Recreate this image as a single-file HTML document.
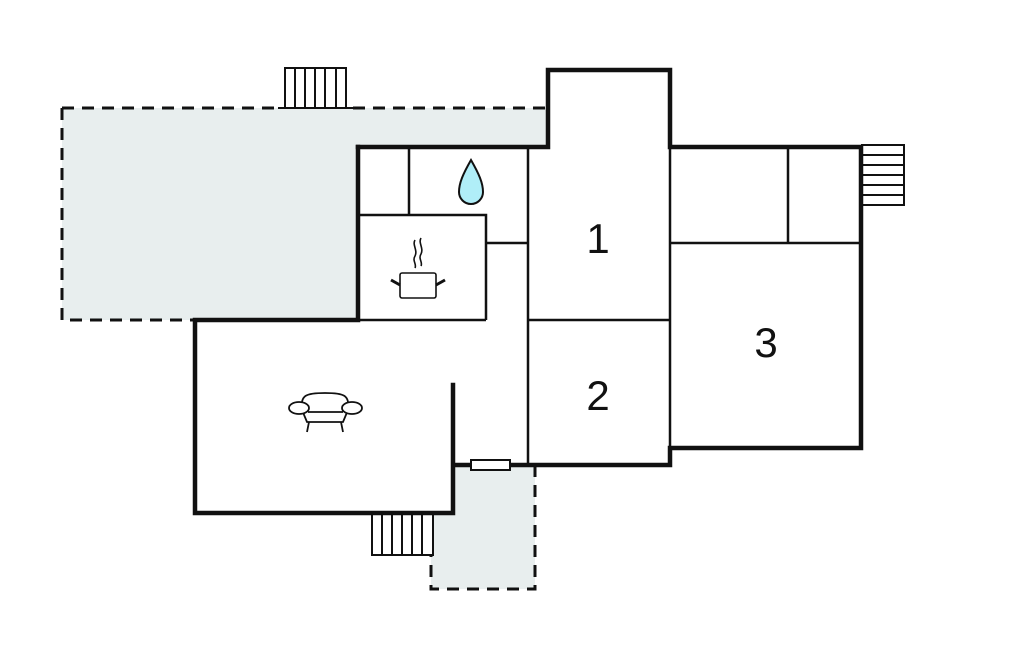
<!DOCTYPE html>
<html><head><meta charset="utf-8"><style>body{margin:0;background:#fff}svg{display:block}</style></head>
<body>
<svg width="1024" height="652" viewBox="0 0 1024 652" xmlns="http://www.w3.org/2000/svg">
<!-- terraces -->
<path d="M62,108 H548 V147 H358 V320 H62 Z" fill="#e8eeee"/>
<path d="M433,465 H535 V589 H431 V513 H453 V465 Z" fill="#e8eeee"/>
<g fill="none" stroke="#111" stroke-width="3" stroke-dasharray="12,8">
<path d="M353,108 H548"/><path d="M62,108 V320 H195"/><path d="M62,108 H278"/>
<path d="M535,465 V589 H431 V555"/>
</g>
<!-- stairs top -->
<g fill="#fff" stroke="#111" stroke-width="2">
<rect x="285" y="68" width="61" height="40"/>
<path d="M295,68V108M305,68V108M315,68V108M325,68V108M336,68V108"/>
<path d="M278,108H353" stroke-width="2"/>
<rect x="372" y="513" width="61" height="42"/>
<path d="M382,513V555M392,513V555M402,513V555M412,513V555M422,513V555"/>
<rect x="862" y="145" width="42" height="60"/>
<path d="M862,155H904M862,165H904M862,175H904M862,185H904M862,195H904"/>
</g>
<!-- interior thin walls -->
<g stroke="#111" stroke-width="2.5" fill="none">
<path d="M409,147V215M358,215H486V320M358,320H486M486,243H528M528,147V465M528,320H670M670,147V448M670,243H861M788,147V243"/>
</g>
<!-- outer walls -->
<g stroke="#111" stroke-width="4.5" fill="none" stroke-linecap="square">
<path d="M358,147H548V70H670V147H861V448H670V465H455"/>
<path d="M453,385V513H195V320H358V147"/>
</g>
<rect x="471" y="460" width="39" height="10" fill="#fff" stroke="#111" stroke-width="2"/>
<!-- labels -->
<g font-family="Liberation Sans, sans-serif" font-size="42" text-anchor="middle" fill="#111">
<text x="598" y="253">1</text><text x="598" y="410">2</text><text x="766" y="357">3</text>
</g>
<!-- drop -->
<path d="M471,160 C463,174 459,183 459,192 A12,12 0 0 0 483,192 C483,183 479,174 471,160 Z" fill="#b0eef8" stroke="#111" stroke-width="2"/>
<!-- pot -->
<g stroke="#111" stroke-width="1.6" fill="none">
<rect x="400" y="273" width="36" height="25" rx="2" fill="#fff"/>
<path d="M391,280L400,285M445,280L436,285" stroke-width="3"/>
<path d="M415,240c-3,5 3,10 0,16c-3,5 2,8 0,12M421,238c-3,5 3,10 0,16c-3,5 2,8 0,12"/>
</g>
<!-- sofa -->
<g stroke="#111" stroke-width="1.8" fill="#fff">
<path d="M302,410 C300,395 306,393 325,393 C344,393 350,395 348,410 L343,422 H307 Z"/>
<ellipse cx="299" cy="408" rx="10" ry="6"/><ellipse cx="352" cy="408" rx="10" ry="6"/>
<path d="M308,412H343M309,422L307,432M341,422L343,432" fill="none"/>
</g>
</svg>
</body></html>
